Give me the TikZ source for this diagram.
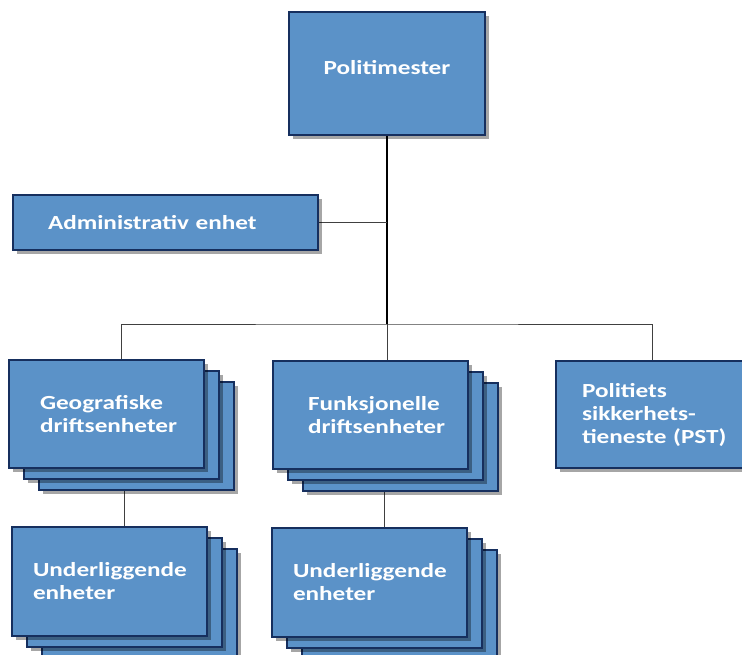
\documentclass[tikz,border=0pt]{standalone}
\usepackage{fontspec}
\newfontfamily\boxfont{Carlito}[FakeStretch=1.26]
\usetikzlibrary{positioning,shadows,backgrounds}
\definecolor{boxblue}{RGB}{91,146,200}
\definecolor{navy}{RGB}{22,47,94}

\begin{document}
\begin{tikzpicture}[x=1pt,y=-1pt,
    box/.style={draw=navy,fill=boxblue,line width=1.5pt,text=white,align=left,
                font=\boxfont\bfseries\fontsize{20}{23}\selectfont},
    lift/.style={drop shadow={shadow xshift=4pt,shadow yshift=-4pt,fill=black,opacity=.35}},
    pile/.style={drop shadow={shadow xshift=34pt,shadow yshift=-26pt,fill=black,opacity=.35},
                 copy shadow={shadow xshift=30pt,shadow yshift=-22pt,fill=boxblue,draw=navy,line width=1.5pt},
                 drop shadow={shadow xshift=19pt,shadow yshift=-15pt,fill=black,opacity=.35},
                 copy shadow={shadow xshift=15pt,shadow yshift=-11pt,fill=boxblue,draw=navy,line width=1.5pt}},
    trunk/.style={line width=2.2pt,black},
    link/.style={line width=.8pt,black!75}]

            \useasboundingbox (0,0) rectangle (742,654);

            \node[box,lift,align=center,minimum width=196pt,minimum height=123pt,text depth=12pt] (chief) at (387,73.5) {Politimester};

            \node[box,lift,text width=235pt,inner xsep=35pt,minimum height=55pt] (admin) at (165.5,222.5) {Administrativ enhet};

            \node[pile,lift,box,text width=133pt,inner xsep=31pt,minimum height=108pt] (geo) at (106.5,414) {Geografiske\\driftsenheter};

            \node[pile,lift,box,text width=125pt,inner xsep=35pt,minimum height=108pt] (fun) at (370.5,415) {Funksjonelle\\driftsenheter};

            \node[box,lift,text width=140pt,inner xsep=26pt,minimum height=107pt] (pst) at (652,414.5) {Politiets\\sikkerhets-\\tieneste~(PST)};

            \node[pile,lift,box,text width=153pt,inner xsep=21pt,minimum height=109pt] (sub1) at (109.5,581.5) {Underliggende\\enheter};

            \node[pile,lift,box,text width=153pt,inner xsep=21pt,minimum height=109pt] (sub2) at (369.5,582.5) {Underliggende\\enheter};

            

            \coordinate (bus) at (387,324);

            \begin{scope}[on background layer]

            \draw[trunk] (chief) -- (bus);

            \draw[link] (admin.east) -- (admin.east -| chief.south);

            \draw[link] ([xshift=15pt]geo.north) |- (bus) -| (pst.north);

            \draw[link] (bus) -- (bus |- fun.north);

            \draw[link] ([xshift=15pt]sub1.north) -- ([xshift=15pt]sub1.north |- geo.south);

            \draw[link] ([xshift=15pt]sub2.north) -- ([xshift=15pt]sub2.north |- fun.south);

            \end{scope}

        \end{tikzpicture}
\end{document}
